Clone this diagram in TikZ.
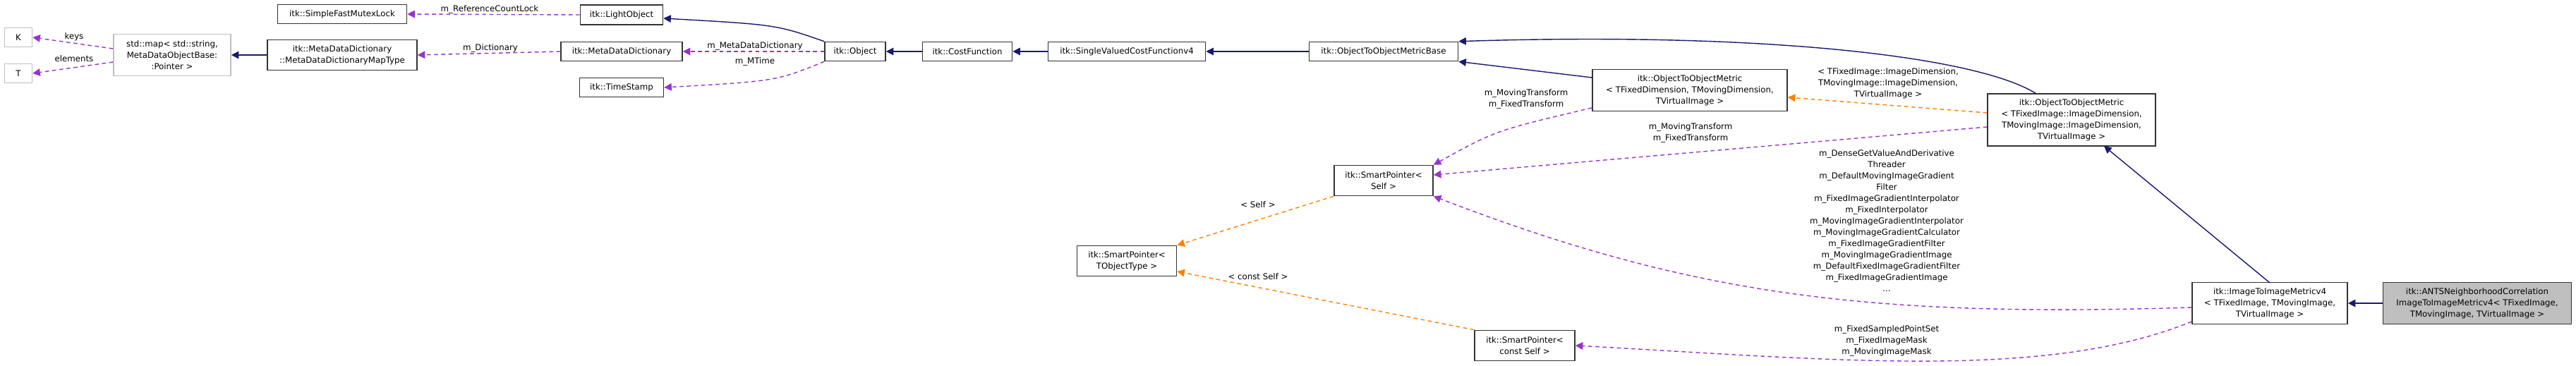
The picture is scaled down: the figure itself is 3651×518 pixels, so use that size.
\documentclass[tikz,border=0pt]{standalone}
\usepackage{fontspec}
\setmainfont{DejaVu Sans}
\usetikzlibrary{arrows.meta}
\begin{document}
\begin{tikzpicture}[x=0.01cm,y=-0.01cm,
  every node/.style={font=\fontsize{3.35}{4.55}\selectfont},
  box/.style={draw=black!80,line width=0.45pt,fill=white,align=center,inner sep=0pt,rectangle},
  gbox/.style={draw=black!25,line width=0.45pt,fill=white,align=center,inner sep=0pt},
  lbl/.style={align=center,inner sep=0pt},
  inh/.style={draw={rgb,255:red,25;green,25;blue,112},line width=0.4pt,-{Triangle[length=3pt,width=3pt]}},
  use/.style={draw={rgb,255:red,153;green,50;blue,204},line width=0.4pt,dash pattern=on 1.6pt off 1.3pt,-{Triangle[length=3pt,width=3pt]}},
  tpl/.style={draw=orange,line width=0.4pt,dash pattern=on 1.6pt off 1.3pt,-{Triangle[length=3pt,width=3pt]}}]
\useasboundingbox (0,0) rectangle (3651,518);
\def\bx#1#2#3#4#5#6{\node[#6,minimum width=#3*0.01cm,minimum height=#4*0.01cm] (#1) at (#2) {#5};}
\bx{K}{26,53}{39}{27}{K}{gbox}
\bx{T}{26,104}{39}{27}{T}{gbox}
\bx{map}{244,78}{166}{59}{std::map< std::string,\\ MetaDataObjectBase:\\:Pointer >}{gbox}
\bx{mapt}{485,78}{212}{43}{itk::MetaDataDictionary\\::MetaDataDictionaryMapType}{box}
\bx{sfml}{485,20}{183}{27}{itk::SimpleFastMutexLock}{box}
\bx{light}{881,21}{117}{28}{itk::LightObject}{box}
\bx{mdd}{881,73}{172}{27}{itk::MetaDataDictionary}{box}
\bx{ts}{881,124}{119}{27}{itk::TimeStamp}{box}
\bx{obj}{1212,73}{86}{27}{itk::Object}{box}
\bx{cf}{1371,73}{127}{27}{itk::CostFunction}{box}
\bx{sv}{1597,73}{223}{27}{itk::SingleValuedCostFunctionv4}{box}
\bx{base}{1961,73}{211}{27}{itk::ObjectToObjectMetricBase}{box}
\bx{otoml}{2395,128}{276}{59}{itk::ObjectToObjectMetric\\< TFixedDimension, TMovingDimension,\\ TVirtualImage >}{box}
\bx{otomr}{2936,170}{238}{74}{itk::ObjectToObjectMetric\\< TFixedImage::ImageDimension,\\ TMovingImage::ImageDimension,\\ TVirtualImage >}{box}
\bx{sps}{1961,256}{140}{43}{itk::SmartPointer<\\ Self >}{box}
\bx{spt}{1597,370}{141}{43}{itk::SmartPointer<\\ TObjectType >}{box}
\bx{spc}{2161,490}{142}{43}{itk::SmartPointer<\\ const Self >}{box}
\bx{i2i}{3217,430}{220}{59}{itk::ImageToImageMetricv4\\< TFixedImage, TMovingImage,\\ TVirtualImage >}{box}
\node[box,fill=black!25,minimum width=2.67cm,minimum height=0.59cm] (ants) at (3511,430) {itk::ANTSNeighborhoodCorrelation\\ImageToImageMetricv4< TFixedImage,\\ TMovingImage, TVirtualImage >};
% edges
\draw[use] (map.west|-0,69) -- (K.east);
\draw[use] (map.west|-0,88) -- (T.east);
\draw[inh] (mapt) -- (map);
\draw[use] (light.west) -- (sfml.east);
\draw[use] (mdd.west) -- (mapt.east);
\draw[inh] (obj.north west) .. controls (1100,35) .. (light.east|-0,26);
\draw[use] (obj.west) -- (mdd.east);
\draw[use] (obj.south west) .. controls (1100,115) .. (ts.east);
\draw[inh] (cf) -- (obj);
\draw[inh] (sv) -- (cf);
\draw[inh] (base) -- (sv);
\draw[inh] (otomr.north west-|2885,0) .. controls (2800,80) and (2500,45) .. (base.north east);
\draw[inh] (otoml.west|-0,110) -- (base.south east);
\draw[tpl] (otomr.west|-0,160) -- (otoml.east|-0,138);
\draw[use] (otoml.west|-0,153) .. controls (2120,185) .. (sps.north east);
\draw[use] (otomr.west|-0,180) -- (sps.east|-0,248);
\draw[use] (i2i.west|-0,436) .. controls (2650,450) and (2400,420) .. (sps.south east);
\draw[use] (i2i.west|-0,456) .. controls (2900,540) and (2600,510) .. (spc.east);
\draw[inh] (i2i.north|-0,401) -- (2982,207);
\draw[inh] (ants) -- (i2i);
\draw[tpl] (sps.south west) -- (spt.north east);
\draw[tpl] (spc.north west) -- (spt.east|-0,385);
% labels
\node[lbl] at (105,52) {keys};
\node[lbl] at (105,83) {elements};
\node[lbl] at (694,13) {m\_ReferenceCountLock};
\node[lbl] at (695,68) {m\_Dictionary};
\node[lbl] at (1070,65) {m\_MetaDataDictionary};
\node[lbl] at (1070,87) {m\_MTime};
\node[lbl] at (2163,140) {m\_MovingTransform\\m\_FixedTransform};
\node[lbl] at (2396,188) {m\_MovingTransform\\m\_FixedTransform};
\node[lbl] at (2676,118) {< TFixedImage::ImageDimension,\\TMovingImage::ImageDimension,\\TVirtualImage >};
\node[lbl] at (2674,313) {m\_DenseGetValueAndDerivative\\Threader\\m\_DefaultMovingImageGradient\\Filter\\m\_FixedImageGradientInterpolator\\m\_FixedInterpolator\\m\_MovingImageGradientInterpolator\\m\_MovingImageGradientCalculator\\m\_FixedImageGradientFilter\\m\_MovingImageGradientImage\\m\_DefaultFixedImageGradientFilter\\m\_FixedImageGradientImage\\...};
\node[lbl] at (2674,483) {m\_FixedSampledPointSet\\m\_FixedImageMask\\m\_MovingImageMask};
\node[lbl] at (1783,290) {< Self >};
\node[lbl] at (1783,392) {< const Self >};
\end{tikzpicture}
\end{document}
